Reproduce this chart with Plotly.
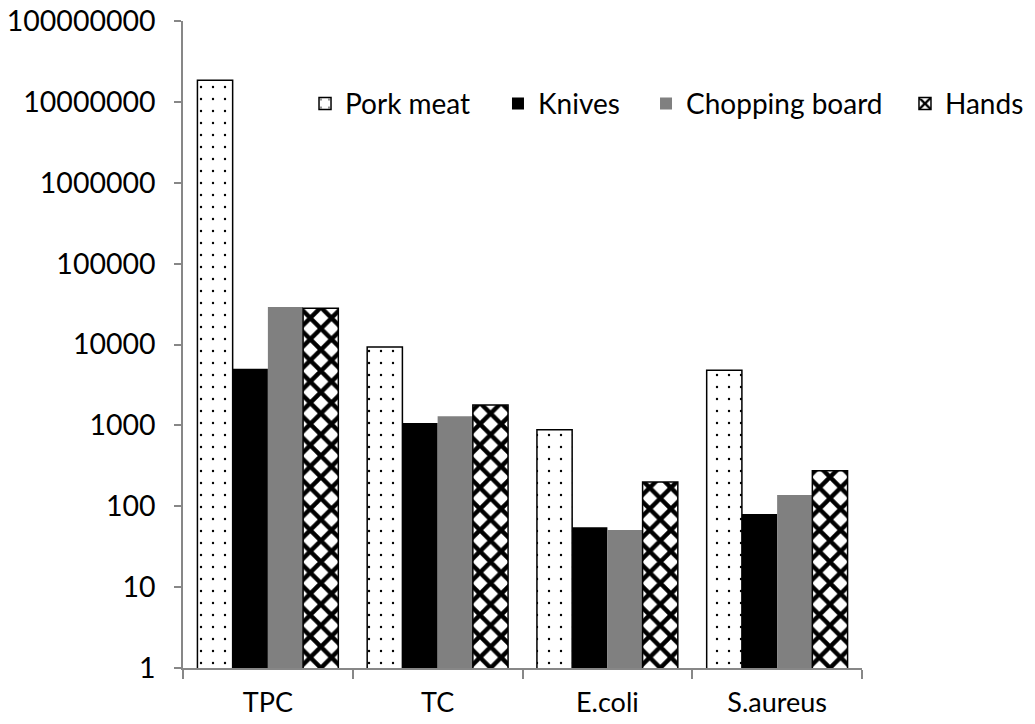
import plotly.graph_objects as go

categories = ["TPC", "TC", "E.coli", "S.aureus"]
series_names = ["Pork meat", "Knives", "Chopping board", "Hands"]
pork_meat = [18500000, 9300, 880, 4800]
knives = [5000, 1070, 55, 80]
chopping_board = [29000, 1300, 51, 138]
hands = [28000, 1780, 200, 274]
tick_values = [1, 10, 100, 1000, 10000, 100000, 1000000, 10000000, 100000000]
tick_labels = ["1", "10", "100", "1000", "10000", "100000", "1000000", "10000000", "100000000"]

FONT = "Lato"
AXIS_GRAY = "#878787"
legend_x = [0.1797, 0.4639, 0.6819, 1.0633]
legend_ids = ["legend", "legend2", "legend3", "legend4"]

markers = [
    dict(color="white", line=dict(color="black", width=1.5),
         pattern=dict(shape=".", fgcolor="black", bgcolor="white",
                      size=12, solidity=0.03, fillmode="replace")),
    dict(color="black", line=dict(width=0)),
    dict(color="#808080", line=dict(width=0)),
    dict(color="white", line=dict(color="black", width=1.5),
         pattern=dict(shape="x", fgcolor="black", bgcolor="white",
                      size=15, solidity=0.5, fillmode="replace")),
]
values = [pork_meat, knives, chopping_board, hands]

fig = go.Figure()
for name, vals, mk, lg in zip(series_names, values, markers, legend_ids):
    fig.add_trace(go.Bar(name=name, x=categories, y=vals, marker=mk, legend=lg))

legend_common = dict(orientation="h", y=0.872, yanchor="middle", xanchor="left",
                     font=dict(family=FONT, size=28, color="black"),
                     bgcolor="rgba(0,0,0,0)", borderwidth=0)

# page body has an 8px default margin; the figure is offset by it
fig.update_layout(
    width=1027, height=716,
    margin=dict(l=175, r=173, t=13, b=56, autoexpand=False),
    paper_bgcolor="white", plot_bgcolor="white",
    barmode="group", bargap=0.17, bargroupgap=0,
    font=dict(family=FONT, size=27, color="black"),
    showlegend=True,
    legend=dict(x=legend_x[0], **legend_common),
    legend2=dict(x=legend_x[1], **legend_common),
    legend3=dict(x=legend_x[2], **legend_common),
    legend4=dict(x=legend_x[3], **legend_common),
    xaxis=dict(showline=True, linecolor=AXIS_GRAY, linewidth=1.5,
               ticks="outside", tickson="boundaries", ticklen=9, tickcolor=AXIS_GRAY,
               tickwidth=1.5, showgrid=False, zeroline=False, automargin=False,
               tickfont=dict(family=FONT, size=27), ticklabelstandoff=10,
               ticklabeloverflow="allow"),
    yaxis=dict(type="log", range=[0, 8], showline=True, linecolor=AXIS_GRAY, linewidth=1.5,
               ticks="outside", ticklen=7, tickcolor=AXIS_GRAY, tickwidth=1.5,
               tickvals=tick_values, ticktext=tick_labels,
               showgrid=False, zeroline=False, automargin=False,
               tickfont=dict(family=FONT, size=28.5), ticklabelstandoff=13,
               ticklabeloverflow="allow"),
)

fig.write_html("out.html")
